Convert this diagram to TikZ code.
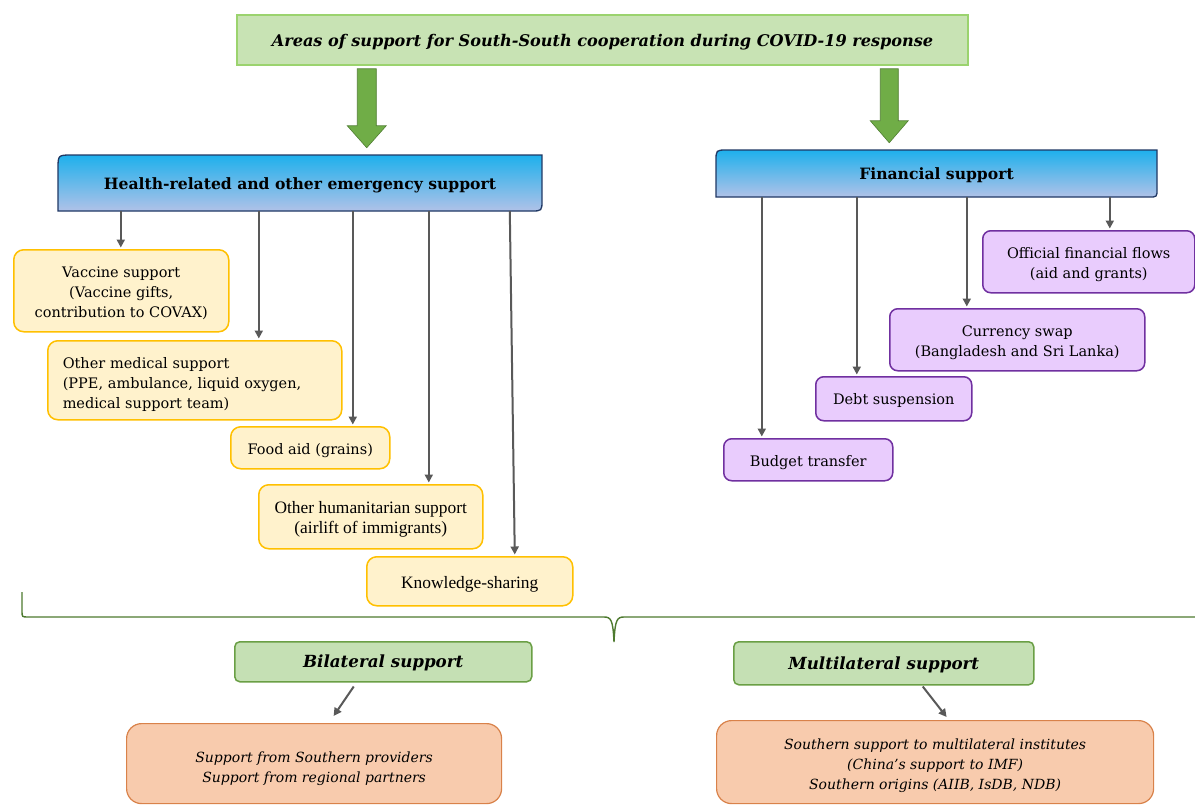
\documentclass[tikz,border=0pt]{standalone}
\usepackage{fontspec}
\setmainfont{DejaVu Serif}
\newfontfamily\tnr{Liberation Serif}
\usetikzlibrary{calc,arrows.meta}
\definecolor{titlefill}{HTML}{C8E3B4}
\definecolor{titleborder}{HTML}{9BD36E}
\definecolor{blockfill}{HTML}{70AD47}
\definecolor{blockborder}{HTML}{507E32}
\definecolor{hdtop}{HTML}{1EB0EC}
\definecolor{hdmid}{HTML}{7FC0EA}
\definecolor{hdbot}{HTML}{B0C2E8}
\definecolor{hdborder}{HTML}{203864}
\definecolor{yfill}{HTML}{FFF2CC}
\definecolor{yborder}{HTML}{FFC000}
\definecolor{pfill}{HTML}{E9CCFD}
\definecolor{pborder}{HTML}{7030A0}
\definecolor{gfill}{HTML}{C5E0B4}
\definecolor{gborder}{HTML}{6A9F45}
\definecolor{bracec}{HTML}{4E7A2F}
\definecolor{ofill}{HTML}{F8CBAD}
\definecolor{oborder}{HTML}{D9824A}
\definecolor{arrgray}{HTML}{595959}
\newcommand\lw[2][3pt]{\raisebox{-#1}[\height][\depth]{\begin{tabular}{@{}c@{}}#2\end{tabular}}}
\newcommand\lwl[2][3pt]{\raisebox{-#1}[\height][\depth]{\begin{tabular}{@{}l@{}}#2\end{tabular}}}
\tikzset{
  body/.style={font=\fontsize{14.5}{20}\selectfont, text=black},
  ybox/.style={body, draw=yborder, fill=yfill, line width=1.5pt, rounded corners=10pt, inner sep=0pt, anchor=north west},
  pbox/.style={body, draw=pborder, fill=pfill, line width=1.5pt, rounded corners=8pt, inner sep=0pt, anchor=north west},
  gbox/.style={draw=gborder, fill=gfill, line width=1.5pt, rounded corners=5pt, inner sep=0pt, anchor=north west, font=\fontsize{16.7}{20}\selectfont\bfseries\itshape},
  obox/.style={draw=oborder, fill=ofill, line width=1.2pt, rounded corners=15pt, inner sep=0pt, anchor=north west, font=\fontsize{14}{20}\selectfont\itshape},
  arr/.style={draw=arrgray, line width=2pt, -{Triangle[length=8pt,width=8pt]}, shorten >=1.5pt},
  blockarr/.style={fill=blockfill, draw=blockborder, line width=0.6pt},
  hdtext/.style={inner sep=0pt, font=\fontsize{15.6}{20}\selectfont\bfseries},
}
\begin{document}
\begin{tikzpicture}[x=1pt,y=-1pt]
\useasboundingbox[fill=white] (0,0) rectangle (1195,804);

% title
\node[draw=titleborder, fill=titlefill, line width=1.5pt, minimum width=731pt, minimum height=50pt, inner sep=0pt,
  font=\fontsize{16.1}{20}\selectfont\bfseries\itshape] (title) at (602.5,40)
  {\lw[2pt]{Areas of support for South-South cooperation during COVID-19 response}};

% heading shapes
\shadedraw[top color=hdtop, middle color=hdmid, bottom color=hdbot, draw=hdborder, line width=1.3pt]
  (58,211) -- (58,169) .. controls (58,155) .. (72,155) -- (542,155) -- (542,200) .. controls (542,211) .. (531,211) -- cycle;
\node[hdtext, minimum width=484pt, minimum height=56pt] (hl) at (300,183) {\lw[2.5pt]{Health-related and other emergency support}};
\shadedraw[top color=hdtop, middle color=hdmid, bottom color=hdbot, draw=hdborder, line width=1.3pt]
  (716,197) -- (716,161) .. controls (716,150) .. (727,150) -- (1157,150) -- (1157,189) .. controls (1157,197) .. (1149,197) -- cycle;
\node[hdtext, minimum width=441pt, minimum height=47pt] (fin) at (936.5,173.5) {\lw[2pt]{Financial support}};

% block arrows
\coordinate (ba1) at ($(title.south west)+(130.5,3)$);
\coordinate (ba2) at ($(title.south west)+(653,3)$);
\path[blockarr] (ba1) ++(-9.5,0) -- ++(19,0) -- ++(0,57) -- ++(10,0) -- ++(-19.5,22) -- ++(-19.5,-22) -- ++(10,0) -- cycle;
\path[blockarr] (ba2) ++(-9,0) -- ++(18,0) -- ++(0,52) -- ++(10,0) -- ++(-19,22) -- ++(-19,-22) -- ++(10,0) -- cycle;

% health boxes
\node[ybox, minimum width=215pt, minimum height=82pt] (vac) at (13,249)
  {\lw{Vaccine support\\(Vaccine gifts,\\contribution to COVAX)}};
\node[ybox, minimum width=294pt, minimum height=79pt, text width=264pt, inner xsep=15pt] (med) at (47,340)
  {\lwl[4pt]{Other medical support\\(PPE, ambulance, liquid oxygen,\\medical support team)}};
\node[ybox, minimum width=159pt, minimum height=42pt] (food) at (230,426) {\lw{Food aid (grains)}};
\node[ybox, minimum width=224pt, minimum height=64pt, font=\tnr\fontsize{17.4}{20}\selectfont] (hum) at (258,484)
  {\lw{Other humanitarian support\\(airlift of immigrants)}};
\node[ybox, minimum width=206pt, minimum height=49pt, font=\tnr\fontsize{17.4}{20}\selectfont] (kno) at (366,556) {\lw{Knowledge-sharing}};

% financial boxes
\node[pbox, minimum width=212pt, minimum height=62pt] (off) at (982,230) {\lw{Official financial flows\\(aid and grants)}};
\node[pbox, minimum width=255pt, minimum height=62pt] (cur) at (889,308) {\lw{Currency swap\\(Bangladesh and Sri Lanka)}};
\node[pbox, minimum width=156pt, minimum height=44pt] (debt) at (815,376) {\lw[2pt]{Debt suspension}};
\node[pbox, minimum width=169pt, minimum height=42pt] (bud) at (723,438) {\lw{Budget transfer}};

% health connectors
\coordinate (h1) at ($(hl.south west)+(63,0)$);
\coordinate (h2) at ($(hl.south west)+(201,0)$);
\coordinate (h3) at ($(hl.south west)+(295,0)$);
\coordinate (h4) at ($(hl.south west)+(371,0)$);
\coordinate (h5) at ($(hl.south west)+(452,0)$);
\draw[arr] (h1) -- (vac.north -| h1);
\draw[arr] (h2) -- (med.north -| h2);
\draw[arr] (h3) -- (food.north -| h3);
\draw[arr] (h4) -- (hum.north -| h4);
\draw[arr] (h5) -- ($(kno.north -| h5)+(5,0)$);

% financial connectors
\coordinate (f1) at ($(fin.south west)+(46,0)$);
\coordinate (f2) at ($(fin.south west)+(141,0)$);
\coordinate (f3) at ($(fin.south west)+(251,0)$);
\coordinate (f4) at ($(fin.south west)+(394,0)$);
\draw[arr] (f1) -- (bud.north -| f1);
\draw[arr] (f2) -- (debt.north -| f2);
\draw[arr] (f3) -- (cur.north -| f3);
\draw[arr] (f4) -- (off.north -| f4);

% brace
\draw[bracec, line width=1.4pt] (22,592) -- (22,611) .. controls (22,617) .. (28,617) -- (604,617)
  .. controls (611,617) and (613,620) .. (614,642)
  .. controls (615,620) and (617,617) .. (624,617) -- (1196,617);

% bottom
\node[gbox, minimum width=297pt, minimum height=40pt] (bil) at (234,641) {\lw[2pt]{Bilateral support}};
\node[gbox, minimum width=300pt, minimum height=43pt] (mul) at (733,641) {\lw[2pt]{Multilateral support}};
\node[obox, minimum width=375pt, minimum height=80pt] (bilo) at (126,723)
  {\lw[5pt]{Support from Southern providers\\Support from regional partners}};
\node[obox, minimum width=437pt, minimum height=83pt] (mulo) at (716,720)
  {\lw{Southern support to multilateral institutes\\(China’s support to IMF)\\Southern origins (AIIB, IsDB, NDB)}};
\draw[arr, shorten >=0pt] ($(bil.south)+(-29.5,4)$) -- ($(bilo.north)+(19.5,-7)$);
\draw[arr, shorten >=0pt] ($(mul.south)+(39,1)$) -- ($(mulo.north)+(11.5,-3)$);
\end{tikzpicture}
\end{document}
